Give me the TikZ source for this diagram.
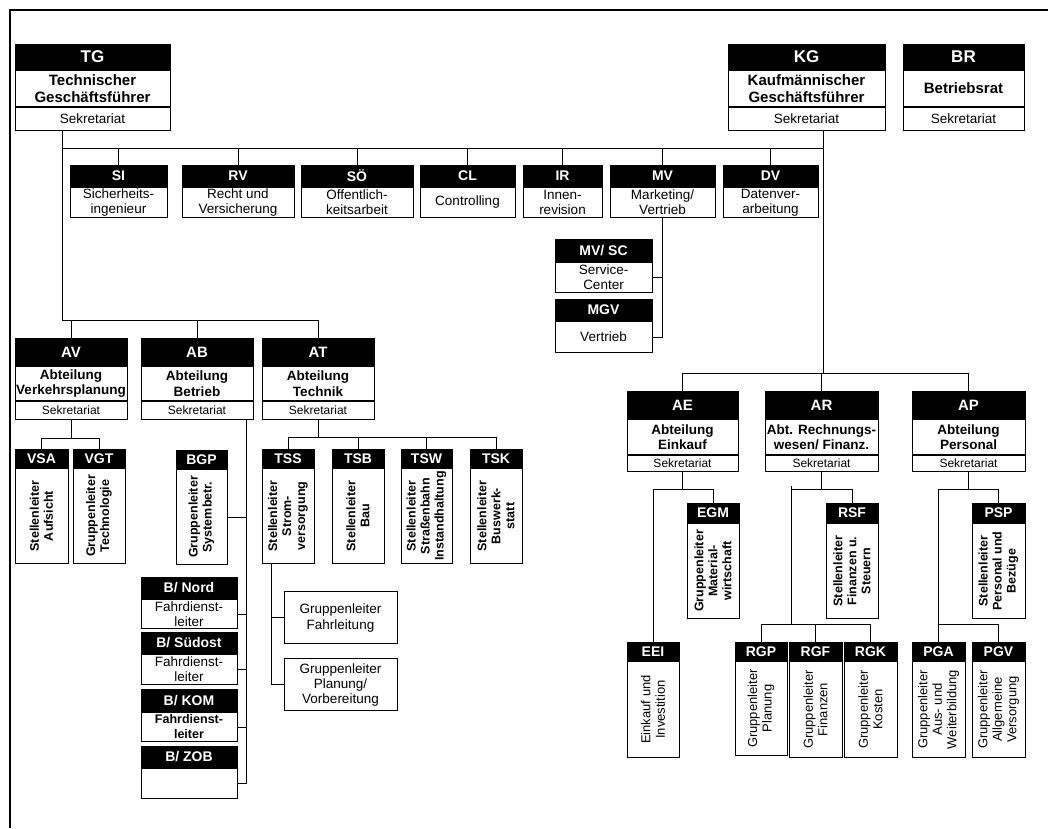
\documentclass[tikz,border=0pt]{standalone}
\usepackage{fontspec}
\setmainfont{Liberation Sans}

\newcommand{\fs}[2]{\fontsize{#1}{#2}\selectfont}

\tikzset{
  gr/.style 2 args={minimum width=#1, minimum height=#2},
  kopf/.style={draw, fill=black, text=white, anchor=north, inner sep=0pt, font=\bfseries\fs{14}{16}},
  grosskopf/.style={kopf, font=\bfseries\fs{17}{19}},
  abtkopf/.style={kopf, font=\bfseries\fs{15}{17}},
  rumpf/.style={draw, fill=white, anchor=north, inner sep=0pt, align=center, font=\fs{13.5}{15}},
  fettrumpf/.style={rumpf, font=\bfseries\fs{13.5}{15.5}},
  sek/.style={rumpf, font=\fs{12}{13}},
  hoch/.style={draw, fill=white, rotate=90, anchor=east, inner sep=0pt, align=center, font=\bfseries\fs{12.5}{14}},
  hochduenn/.style={hoch, font=\fs{13}{14.5}},
}

\begin{document}
\begin{tikzpicture}[x=1pt, y=-1pt, line width=1pt]
    \useasboundingbox (0,0) rectangle (1048,828);
    \draw[line width=1.5pt] (10,828) -- (10,10) -- (1048,10);

    % Geschaeftsfuehrer und Betriebsrat
    \node[grosskopf, gr={155}{25}] (tg) at (92.5,44) {TG};
    \node[fettrumpf, gr={155}{36}, font=\bfseries\fs{15}{17}] (tgb) at (tg.south) {Technischer\\Geschäftsführer};
    \node[sek, gr={155}{23}, font=\fs{13.5}{14}] (tgs) at (tgb.south) {Sekretariat};
    \node[grosskopf, gr={157}{25}] (kg) at (806.5,44) {KG};
    \node[fettrumpf, gr={157}{36}, font=\bfseries\fs{15}{17}] (kgb) at (kg.south) {Kaufmännischer\\Geschäftsführer};
    \node[sek, gr={157}{23}, font=\fs{13.5}{14}] (kgs) at (kgb.south) {Sekretariat};
    \node[grosskopf, gr={121}{25}] (br) at (963.5,44) {BR};
    \node[fettrumpf, gr={121}{36}, font=\bfseries\fs{15}{17}] (brb) at (br.south) {Betriebsrat};
    \node[sek, gr={121}{23}, font=\fs{13.5}{14}] (brs) at (brb.south) {Sekretariat};

    % Stabsstellen
    \node[kopf, gr={97}{21}] (si) at (118.5,165) {SI};
    \node[rumpf, gr={97}{30}] (sib) at (si.south) {Sicherheits-\\ingenieur};
    \node[kopf, gr={112}{21}] (rv) at (238,165) {RV};
    \node[rumpf, gr={112}{30}] (rvb) at (rv.south) {Recht und\\Versicherung};
    \node[kopf, gr={112}{21}] (so) at (357,165) {SÖ};
    \node[rumpf, gr={112}{30}] (sob) at (so.south) {Offentlich-\\keitsarbeit};
    \node[kopf, gr={95}{21}] (cl) at (467.5,165) {CL};
    \node[rumpf, gr={95}{30}] (clb) at (cl.south) {Controlling};
    \node[kopf, gr={79}{21}] (ir) at (562.5,165) {IR};
    \node[rumpf, gr={79}{30}] (irb) at (ir.south) {Innen-\\revision};
    \node[kopf, gr={105}{21}] (mv) at (662.5,165) {MV};
    \node[rumpf, gr={105}{30}] (mvb) at (mv.south) {Marketing/\\Vertrieb};
    \node[kopf, gr={95}{21}] (dv) at (770.5,165) {DV};
    \node[rumpf, gr={95}{30}] (dvb) at (dv.south) {Datenver-\\arbeitung};

    \node[kopf, gr={97}{22}] (mvsc) at (603.5,239) {MV/ SC};
    \node[rumpf, gr={97}{30}] (mvscb) at (mvsc.south) {Service-\\Center};
    \node[kopf, gr={97}{21}] (mgv) at (603.5,299) {MGV};
    \node[rumpf, gr={97}{31}] (mgvb) at (mgv.south) {Vertrieb};

    % Abteilungen technisch
    \node[abtkopf, gr={112}{27}] (av) at (71,338) {AV};
    \node[fettrumpf, gr={112}{34}] (avb) at (av.south) {Abteilung\\Verkehrsplanung};
    \node[sek, gr={112}{18}] (avs) at (avb.south) {Sekretariat};
    \node[abtkopf, gr={112}{27}] (ab) at (197,338) {AB};
    \node[fettrumpf, gr={112}{34}] (abb) at (ab.south) {Abteilung\\Betrieb};
    \node[sek, gr={112}{18}] (abs) at (abb.south) {Sekretariat};
    \node[abtkopf, gr={112}{27}] (at) at (318,338) {AT};
    \node[fettrumpf, gr={112}{34}] (atb) at (at.south) {Abteilung\\Technik};
    \node[sek, gr={112}{18}] (ats) at (atb.south) {Sekretariat};

    \node[kopf, gr={53}{18}] (vsa) at (41.5,449) {VSA};
    \node[hoch, gr={95}{53}] (vsab) at (vsa.south) {Stellenleiter\\Aufsicht};
    \node[kopf, gr={52}{18}] (vgt) at (99,449) {VGT};
    \node[hoch, gr={95}{52}] (vgtb) at (vgt.south) {Gruppenleiter\\Technologie};
    \node[kopf, gr={51}{18}] (bgp) at (201.5,450) {BGP};
    \node[hoch, gr={95}{51}] (bgpb) at (bgp.south) {Gruppenleiter\\Systembetr.};
    \node[kopf, gr={52}{18}] (tss) at (288,449) {TSS};
    \node[hoch, gr={95}{52}] (tssb) at (tss.south) {Stellenleiter\\Strom-\\versorgung};
    \node[kopf, gr={52}{18}] (tsb) at (358,449) {TSB};
    \node[hoch, gr={95}{52}] (tsbb) at (tsb.south) {Stellenleiter\\Bau};
    \node[kopf, gr={51}{18}] (tsw) at (426.5,449) {TSW};
    \node[hoch, gr={95}{51}] (tswb) at (tsw.south) {Stellenleiter\\Straßenbahn\\Instandhaltung};
    \node[kopf, gr={52}{18}] (tsk) at (496,449) {TSK};
    \node[hoch, gr={95}{52}] (tskb) at (tsk.south) {Stellenleiter\\Buswerk-\\statt};

    \node[kopf, gr={96}{21}] (bnord) at (189,577) {B/ Nord};
    \node[rumpf, gr={96}{29}] (bnordb) at (bnord.south) {Fahrdienst-\\leiter};
    \node[kopf, gr={96}{21}] (bsued) at (189,632) {B/ Südost};
    \node[rumpf, gr={96}{30}] (bsuedb) at (bsued.south) {Fahrdienst-\\leiter};
    \node[kopf, gr={96}{22}] (bkom) at (189,689) {B/ KOM};
    \node[fettrumpf, gr={96}{29}, font=\bfseries\fs{12.5}{15}] (bkomb) at (bkom.south) {Fahrdienst-\\leiter};
    \node[kopf, gr={96}{21}] (bzob) at (189,746) {B/ ZOB};
    \node[rumpf, gr={96}{30}] (bzobb) at (bzob.south) {};

    \node[rumpf, gr={113}{52}, font=\fs{13.5}{16}] (glf) at (340.5,591) {Gruppenleiter\\Fahrleitung};
    \node[rumpf, gr={113}{52}] (glp) at (340.5,658) {Gruppenleiter\\Planung/\\Vorbereitung};

    % Abteilungen kaufmaennisch
    \node[abtkopf, gr={111}{27}] (ae) at (682.5,391) {AE};
    \node[fettrumpf, gr={111}{35}] (aeb) at (ae.south) {Abteilung\\Einkauf};
    \node[sek, gr={111}{16}] (aes) at (aeb.south) {Sekretariat};
    \node[abtkopf, gr={113}{27}] (ar) at (821.5,391) {AR};
    \node[fettrumpf, gr={113}{35}] (arb) at (ar.south) {Abt. Rechnungs-\\wesen/ Finanz.};
    \node[sek, gr={113}{16}] (ars) at (arb.south) {Sekretariat};
    \node[abtkopf, gr={113}{27}] (ap) at (968.5,391) {AP};
    \node[fettrumpf, gr={113}{35}] (apb) at (ap.south) {Abteilung\\Personal};
    \node[sek, gr={113}{16}] (aps) at (apb.south) {Sekretariat};

    \node[kopf, gr={52}{19}] (egm) at (713,503) {EGM};
    \node[hoch, gr={95}{52}] (egmb) at (egm.south) {Gruppenleiter\\Material-\\wirtschaft};
    \node[kopf, gr={52}{19}] (rsf) at (852,503) {RSF};
    \node[hoch, gr={95}{52}] (rsfb) at (rsf.south) {Stellenleiter\\Finanzen u.\\Steuern};
    \node[kopf, gr={53}{19}] (psp) at (998.5,503) {PSP};
    \node[hoch, gr={95}{53}] (pspb) at (psp.south) {Stellenleiter\\Personal und\\Bezüge};

    \node[kopf, gr={52}{18}] (eei) at (653,642) {EEI};
    \node[hochduenn, gr={96}{52}] (eeib) at (eei.south) {Einkauf und\\Investition};
    \node[kopf, gr={52}{18}] (rgp) at (761,642) {RGP};
    \node[hochduenn, gr={94}{52}] (rgpb) at (rgp.south) {Gruppenleiter\\Planung};
    \node[kopf, gr={53}{18}] (rgf) at (815.5,642) {RGF};
    \node[hochduenn, gr={96}{53}] (rgfb) at (rgf.south) {Gruppenleiter\\Finanzen};
    \node[kopf, gr={53}{18}] (rgk) at (870.5,642) {RGK};
    \node[hochduenn, gr={96}{53}] (rgkb) at (rgk.south) {Gruppenleiter\\Kosten};
    \node[kopf, gr={53}{18}] (pga) at (938.5,642) {PGA};
    \node[hochduenn, gr={96}{53}] (pgab) at (pga.south) {Gruppenleiter\\Aus- und\\Weiterbildung};
    \node[kopf, gr={53}{18}] (pgv) at (998.5,642) {PGV};
    \node[hochduenn, gr={96}{53}] (pgvb) at (pgv.south) {Gruppenleiter\\Allgemeine\\Versorgung};

    % Verbindungen
    \coordinate (buso) at (0,148);
    \coordinate (busl) at (0,320);
    \coordinate (busr) at (0,373);
    \coordinate (tgl) at ([xshift=48]tgs.south west);
    \coordinate (kgl) at ([xshift=-62]kgs.south east);
    \draw (tgl) -- (tgl |- busl) -- (at.north |- busl) -- (at.north);
    \draw (av.north) -- (av.north |- busl);
    \draw (ab.north) -- (ab.north |- busl);
    \draw (tgl |- buso) -- (kgl |- buso);
    \foreach \n in {si,rv,so,cl,ir,mv,dv}
        \draw (\n.north) -- (\n.north |- buso);
    \draw (kgl) -- (kgl |- busr);
    \draw (ae.north) |- (ap.north |- busr) -- (ap.north);
    \draw (ar.north) -- (ar.north |- busr);

    \draw (mvb.south) |- (mgvb.east);
    \draw (mvscb.east) -- (mvscb.east -| mvb.south);

    \draw (avs.south) -- ++(0,18) coordinate (avk);
    \draw (vsa.north) |- (vgt.north |- avk) -- (vgt.north);

    \coordinate (abl) at ([xshift=49]abs.south);
    \draw (abl) -- (abl |- bzobb.east);
    \draw (bgpb.south) -- (bgpb.south -| abl);
    \foreach \n in {bnordb,bsuedb,bkomb,bzobb}
        \draw (\n.east) -- (\n.east -| abl);

    \draw (ats.south) -- ++(0,17) coordinate (atk);
    \draw (tss.north) |- (tsk.north |- atk) -- (tsk.north);
    \draw (tsb.north) -- (tsb.north |- atk);
    \draw (tsw.north) -- (tsw.north |- atk);
    \coordinate (tssl) at ([xshift=-17]tssb.west);
    \draw (tssl) |- (glp.west);
    \draw (glf.west) -- (glf.west -| tssl);

    \draw (aes.south) -- ++(0,17) coordinate (aek);
    \draw (eei.north) |- (egm.north |- aek) -- (egm.north);
    \draw (ars.south) -- ++(0,17) coordinate (ark);
    \coordinate (arl) at (791,486);
    \draw (arl |- ark) -- (rsf.north |- ark) -- (rsf.north);
    \draw (arl) -- (arl |- 0,624);
    \draw (rgp.north) |- (rgk.north |- 0,624) -- (rgk.north);
    \draw (rgf.north) -- (rgf.north |- 0,624);
    \draw (aps.south) -- ++(0,17) coordinate (apk);
    \draw (pga.north) |- (psp.north |- apk) -- (psp.north);
    \draw (pgv.north) |- (pga.north |- 0,624);
\end{tikzpicture}
\end{document}
